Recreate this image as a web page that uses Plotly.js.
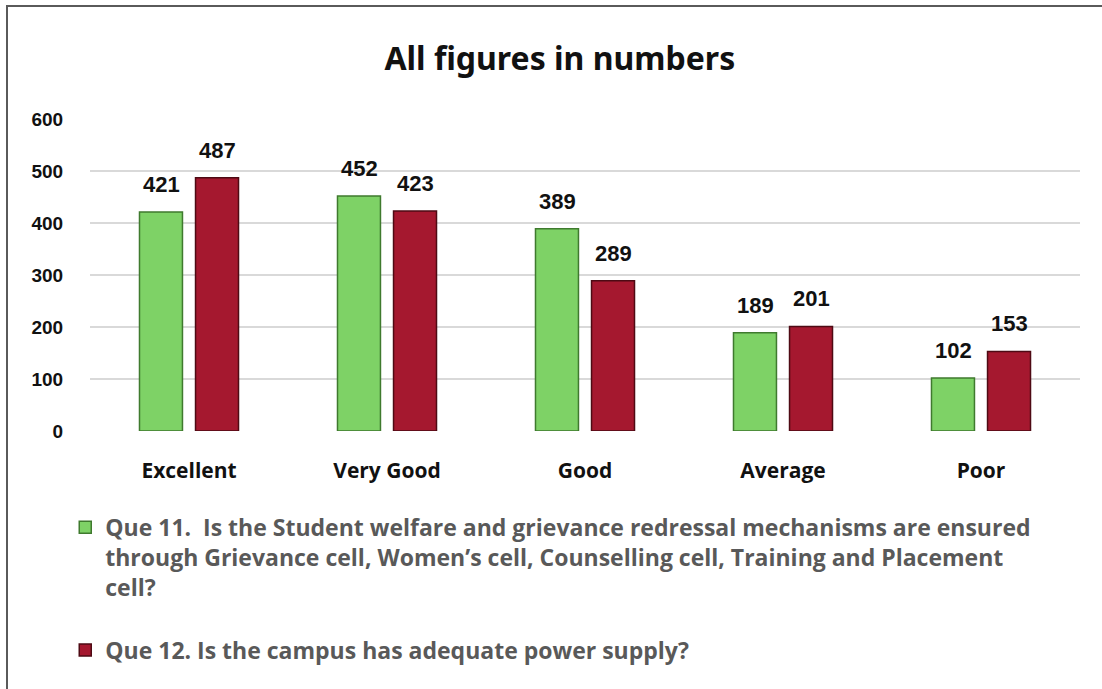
<!DOCTYPE html>
<html>
<head>
<meta charset="utf-8">
<script src="https://cdn.plot.ly/plotly-3.0.1.min.js"></script>
<style>
  html, body { margin: 0; padding: 0; background: #ffffff; }
  #wrap { position: relative; width: 1102px; height: 689px; overflow: hidden; }
  #chart { position: absolute; left: 0; top: 0; width: 1102px; height: 689px; }
  #frame { position: absolute; left: 6px; top: 5px; width: 1110px; height: 700px;
           border-top: 2px solid #5a5a5a; border-left: 2px solid #5a5a5a; pointer-events: none; }
</style>
</head>
<body>
<div id="wrap">
  <div id="chart"></div>
  <div id="frame"></div>
</div>
<script>
const categories = ["Excellent", "Very Good", "Good", "Average", "Poor"];
const que11 = [421, 452, 389, 189, 102];
const que12 = [487, 423, 289, 201, 153];
const seriesNames = [
  "Que 11.  Is the Student welfare and grievance redressal mechanisms are ensured<br>through Grievance cell, Women\u2019s cell, Counselling cell, Training and Placement<br>cell?",
  "Que 12. Is the campus has adequate power supply?"
];
const yTicks = [0, 100, 200, 300, 400, 500, 600];

const green = "#7ed266";
const red = "#a5182f";

const traces = [
  {
    type: "bar", x: categories, y: que11, name: seriesNames[0], legendgroup: "q11",
    marker: { color: green, line: { color: "#3f7a2e", width: 1.5 } },
    hoverinfo: "skip"
  },
  {
    type: "bar", x: categories, y: que12, name: seriesNames[1], legendgroup: "q12",
    marker: { color: red, line: { color: "#4e0a14", width: 1.5 } },
    hoverinfo: "skip"
  }
];

const annotations = [];
const labelFont = { family: "Liberation Sans, Arial, sans-serif", size: 22, color: "#111111", weight: 700 };
[que11, que12].forEach((vals, si) => {
  vals.forEach((v, i) => {
    annotations.push({
      x: categories[i], y: v, xref: "x", yref: "y",
      text: "<b>" + v + "</b>", showarrow: false,
      xshift: si === 0 ? -28 : 28, yshift: 13, yanchor: "bottom",
      font: labelFont
    });
  });
});

const layout = {
  width: 1102, height: 689,
  margin: { l: 90, r: 22, t: 119, b: 258 },
  paper_bgcolor: "#ffffff", plot_bgcolor: "#ffffff",
  title: {
    text: "<b>All figures in numbers</b>",
    x: 0.508, xanchor: "center", y: 0.915, yanchor: "middle",
    font: { family: "Noto Sans, Open Sans, sans-serif", size: 32, color: "#111111" }
  },
  barmode: "group", bargap: 0.434, bargroupgap: 0.233,
  xaxis: {
    showgrid: false, zeroline: false, showline: false,
    ticks: "outside", ticklen: 21, tickcolor: "rgba(0,0,0,0)",
    tickfont: { family: "Open Sans, sans-serif", size: 21, color: "#111111", weight: 700 },
    fixedrange: true
  },
  yaxis: {
    range: [0, 600], tickvals: yTicks, ticktext: yTicks.map(String),
    showgrid: true, gridcolor: "#d9d9d9", gridwidth: 2,
    zeroline: false, showline: false,
    ticks: "outside", ticklen: 22, tickcolor: "rgba(0,0,0,0)",
    tickfont: { family: "Liberation Sans, Arial, sans-serif", size: 19, color: "#111111", weight: 700 },
    fixedrange: true
  },
  showlegend: true,
  legend: {
    orientation: "v", x: -0.025, xanchor: "left", y: -0.24, yanchor: "top",
    valign: "top", tracegroupgap: 30, itemwidth: 30,
    font: { family: "Open Sans, sans-serif", size: 23, color: "#595959", weight: 700 },
    bgcolor: "rgba(0,0,0,0)"
  },
  annotations: annotations
};

Plotly.newPlot("chart", traces, layout, { staticPlot: true, displayModeBar: false });
</script>
</body>
</html>
